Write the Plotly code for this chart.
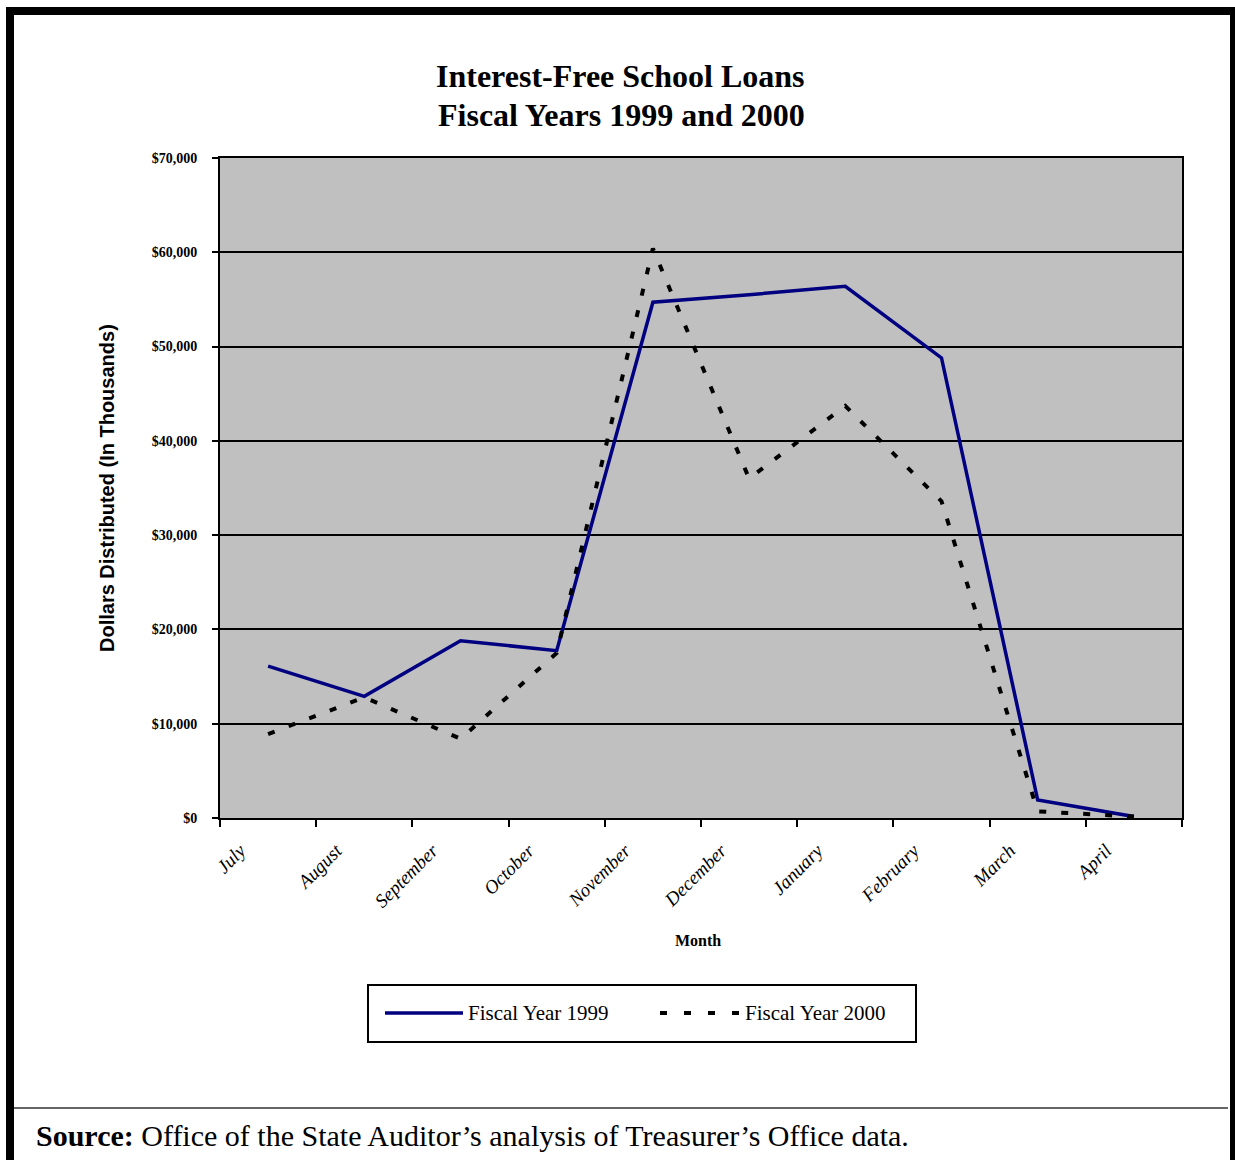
import plotly.graph_objects as go

months = ["July", "August", "September", "October", "November",
          "December", "January", "February", "March", "April"]
fy1999 = [16100, 12900, 18800, 17750, 54700, 55500, 56400, 48800, 1900, 150]
fy2000 = [8900, 12800, 8400, 17500, 60400, 36000, 43700, 33600, 700, 150]
series_names = ["Fiscal Year 1999", "Fiscal Year 2000"]

W, H = 1235, 1160
L, R, T, B = 220, 1182, 158, 818


def px(x):
    return (x - L) / (R - L)


def py(y):
    return (B - y) / (B - T)


SERIF = "Liberation Serif, Times New Roman, serif"
NAVY = "#000080"

fig = go.Figure()
fig.add_trace(go.Scatter(x=months, y=fy1999, mode="lines", name=series_names[0],
                         line=dict(color=NAVY, width=3.5), showlegend=False))
fig.add_trace(go.Scatter(x=months, y=fy2000, mode="lines", name=series_names[1],
                         line=dict(color="black", width=4, dash="7px,15px"),
                         showlegend=False))

shapes = []
# outer frame
for x0, x1, y0, y1 in [(6, 14, 7, 1162), (6, 1235, 7, 15), (1230, 1236, 7, 1162)]:
    shapes.append(dict(type="rect", xref="paper", yref="paper",
                       x0=px(x0), x1=px(x1), y0=py(y0), y1=py(y1),
                       fillcolor="black", line=dict(width=0), layer="above"))
# separator line
shapes.append(dict(type="line", xref="paper", yref="paper",
                   x0=px(14), x1=px(1228), y0=py(1108), y1=py(1108),
                   line=dict(color="#333333", width=1.5)))
# legend box
shapes.append(dict(type="rect", xref="paper", yref="paper",
                   x0=px(368), x1=px(916), y0=py(985), y1=py(1042),
                   line=dict(color="black", width=2), fillcolor="white"))
shapes.append(dict(type="line", xref="paper", yref="paper",
                   x0=px(385), x1=px(463), y0=py(1013), y1=py(1013),
                   line=dict(color=NAVY, width=3.5)))
shapes.append(dict(type="line", xref="paper", yref="paper",
                   x0=px(660), x1=px(740), y0=py(1013), y1=py(1013),
                   line=dict(color="black", width=4, dash="7px,17px")))

annotations = [
    dict(text="<b>Interest-Free School Loans</b>", x=px(620), y=py(76),
         xref="paper", yref="paper", showarrow=False, xanchor="center", yanchor="middle",
         font=dict(family=SERIF, size=32, color="black")),
    dict(text="<b>Fiscal Years 1999 and 2000</b>", x=px(621), y=py(115),
         xref="paper", yref="paper", showarrow=False, xanchor="center", yanchor="middle",
         font=dict(family=SERIF, size=32, color="black")),
    dict(text="<b>Dollars Distributed (In Thousands)</b>", x=px(107), y=py(488),
         xref="paper", yref="paper", showarrow=False, textangle=-90,
         xanchor="center", yanchor="middle",
         font=dict(family="Liberation Sans Narrow, Liberation Sans, Arial, sans-serif",
                   size=20, color="black")),
    dict(text="<b>Month</b>", x=px(698), y=py(940), xref="paper", yref="paper",
         showarrow=False, xanchor="center", yanchor="middle",
         font=dict(family=SERIF, size=16, color="black")),
    dict(text=series_names[0], x=px(466), y=py(1013), xref="paper", yref="paper",
         showarrow=False, xanchor="left", yanchor="middle",
         font=dict(family=SERIF, size=21, color="black")),
    dict(text=series_names[1], x=px(743), y=py(1013), xref="paper", yref="paper",
         showarrow=False, xanchor="left", yanchor="middle",
         font=dict(family=SERIF, size=21, color="black")),
    dict(text="<b>Source:</b> Office of the State Auditor’s analysis of Treasurer’s Office data.",
         x=px(34), y=py(1135), xref="paper", yref="paper",
         showarrow=False, xanchor="left", yanchor="middle",
         font=dict(family=SERIF, size=30, color="black")),
]

fig.update_layout(
    width=W, height=H,
    margin=dict(l=L, r=W - R, t=T, b=H - B, pad=0),
    paper_bgcolor="white", plot_bgcolor="#C0C0C0",
    shapes=shapes, annotations=annotations, showlegend=False,
    font=dict(family=SERIF, color="black"),
)
fig.update_xaxes(type="category", range=[-0.5, 9.5], tickson="boundaries",
                 ticks="outside", ticklen=7,
                 tickwidth=2, tickcolor="black", showline=True, linewidth=2,
                 linecolor="black", mirror=True, showgrid=False, tickangle=-45,
                 ticklabelshift=-28, ticklabelstandoff=12,
                 tickfont=dict(family=SERIF, size=19, style="italic", color="black"))
fig.update_yaxes(range=[0, 70000], dtick=10000, tickformat="$,.0f", ticks="outside",
                 ticklen=6, tickwidth=2, tickcolor="black", showline=True, linewidth=2,
                 linecolor="black", mirror=True, showgrid=True, gridcolor="black",
                 gridwidth=2, zeroline=False, ticklabelstandoff=12,
                 tickfont=dict(family=SERIF, size=14, weight="bold", color="black"))

fig.write_html("out.html")
